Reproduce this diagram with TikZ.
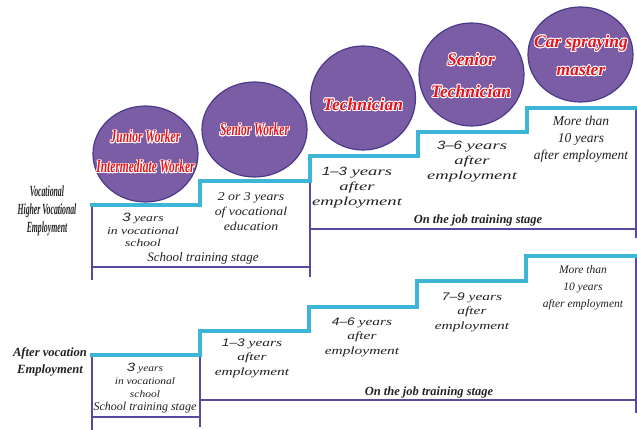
\documentclass[tikz,border=0pt]{standalone}
\usepackage{fontspec}
\setmainfont{Liberation Serif}
\setsansfont{Liberation Sans}
\newfontfamily\wideA[FakeStretch=1.55]{Liberation Serif}
\newfontfamily\wideB[FakeStretch=1.4]{Liberation Serif}
\newfontfamily\wideC[FakeStretch=1.3]{Liberation Serif}
\newfontfamily\wideD[FakeStretch=1.15]{Liberation Serif}
\newfontfamily\wsans[FakeStretch=1.25]{Liberation Sans}
\newfontfamily\condfont[FakeStretch=0.5]{Liberation Serif}
\newfontfamily\condball[FakeStretch=0.62]{Liberation Serif}
\usepackage{contour}
\contourlength{0.8pt}
\usetikzlibrary{shapes.geometric}
\definecolor{stair}{HTML}{3DB5D6}
\definecolor{frame}{HTML}{5A4A9E}
\definecolor{ballfill}{HTML}{7B5DA6}
\definecolor{ballline}{HTML}{4B3A8A}
\definecolor{lbl}{HTML}{E3141C}
\definecolor{txt}{HTML}{222222}
\tikzset{
  stairline/.style={draw=stair, line width=4.5pt, line join=miter, line cap=butt},
  frameline/.style={draw=frame, line width=1.1pt},
  ball/.style={ellipse, draw=ballline, line width=1.2pt, fill=ballfill, inner sep=0pt},
  balltxt/.style={text=lbl, align=center, inner sep=0pt, font=\bfseries\itshape\fontsize{17.5}{30}\selectfont},
  condtxt/.style={text=lbl, align=center, inner sep=0pt, font=\condball\bfseries\itshape\fontsize{18.5}{30}\selectfont},
  yrsA/.style={text=txt, align=center, inner sep=0pt, font=\wideA\itshape\fontsize{12}{15}\selectfont},
  yrsB/.style={text=txt, align=center, inner sep=0pt, font=\wideB\itshape\fontsize{11}{14.5}\selectfont},
  yrsC/.style={text=txt, align=center, inner sep=0pt, font=\wideC\itshape\fontsize{10.5}{12.5}\selectfont},
  yrsD/.style={text=txt, align=center, inner sep=0pt, font=\wideD\itshape\fontsize{12}{15}\selectfont},
  more/.style={text=txt, align=center, inner sep=0pt, font=\itshape\fontsize{13.5}{17}\selectfont},
  stage/.style={text=txt, inner sep=0pt, font=\itshape\fontsize{13}{15}\selectfont},
  job/.style={text=txt, inner sep=0pt, font=\bfseries\itshape\fontsize{12.5}{15}\selectfont},
  leftlab/.style={text=txt, align=center, inner sep=0pt, font=\condfont\bfseries\itshape\fontsize{15.5}{18}\selectfont},
  leftb/.style={text=txt, align=center, inner sep=0pt, font=\bfseries\itshape\fontsize{12.6}{17}\selectfont},
}
\newcommand\hl[1]{\contour{white}{#1}}
\begin{document}
\begin{tikzpicture}[x=1pt,y=-1pt]
\useasboundingbox (0,0) rectangle (637,430);
\fill[white] (0,0) rectangle (637,430);
% ---------- top section frames ----------
\coordinate (fa1) at (92,207);  \coordinate (fa2) at (92,280);
\coordinate (fb1) at (92,267);  \coordinate (fb2) at (310,267);
\coordinate (fc1) at (310,158); \coordinate (fc2) at (310,277);
\coordinate (fd1) at (310,229); \coordinate (fd2) at (636,229);
\coordinate (fe1) at (636,109); \coordinate (fe2) at (636,238);
\draw[frameline] (fa1) -- (fa2);
\draw[frameline] (fb1) -- (fb2);
\draw[frameline] (fc1) -- (fc2);
\draw[frameline] (fd1) -- (fd2);
\draw[frameline] (fe1) -- (fe2);
% ---------- bottom section frames ----------
\coordinate (ga1) at (92,357);  \coordinate (ga2) at (92,430);
\coordinate (gb1) at (92,417);  \coordinate (gb2) at (200,417);
\coordinate (gc1) at (200,333); \coordinate (gc2) at (200,427);
\coordinate (gd1) at (200,400); \coordinate (gd2) at (636,400);
\coordinate (ge1) at (636,258); \coordinate (ge2) at (636,413);
\draw[frameline] (ga1) -- (ga2);
\draw[frameline] (gb1) -- (gb2);
\draw[frameline] (gc1) -- (gc2);
\draw[frameline] (gd1) -- (gd2);
\draw[frameline] (ge1) -- (ge2);
% ---------- stairs ----------
\draw[stairline] (90,205) -- (200,205) -- (200,181) -- (310,181) -- (310,156)
  -- (418,156) -- (418,132) -- (527,132) -- (527,108) -- (640,108);
\draw[stairline] (90,355) -- (200,355) -- (200,331) -- (309,331) -- (309,307)
  -- (417,307) -- (417,281) -- (526,281) -- (526,256) -- (640,256);
% ---------- balls ----------
\node[ball, minimum width=105pt, minimum height=96pt] (c1) at (145.5,154) {};
\node[ball, minimum width=105pt, minimum height=95pt] (c2) at (254.5,129.5) {};
\node[ball, minimum width=105pt, minimum height=104pt] (c3) at (363,98) {};
\node[ball, minimum width=105pt, minimum height=103pt] (c4) at (471.5,74.5) {};
\node[ball, minimum width=105pt, minimum height=95pt] (c5) at (580.5,54.5) {};
\node[condtxt] (c1t) at (145.5,152) {\hl{Junior Worker}\\\hl{Intermediate Worker}};
\node[condtxt] (c2t) at (254.5,130) {\hl{Senior Worker}};
\node[balltxt] (c3t) at (363,105) {\hl{Technician}};
\node[balltxt, font=\bfseries\itshape\fontsize{17.5}{32}\selectfont] (c4t) at (471,76) {\hl{Senior}\\\hl{Technician}};
\node[balltxt, font=\bfseries\itshape\fontsize{17.5}{28}\selectfont] (c5t) at (581,56) {\hl{Car spraying}\\\hl{master}};
% ---------- top texts ----------
\node[leftlab] (l1) at (47,211) {Vocational\\Higher Vocational\\Employment};
\node[yrsC] (s1) at (143,230) {{\wsans\fontsize{12}{12.5}\selectfont 3} years\\in vocational\\school};
\node[yrsD] (s2) at (251,212) {2 or 3 years\\of vocational\\education};
\node[stage] (st1) at (203,258) {School training stage};
\node[yrsA] (t1) at (357,188) {{\wsans 1–3} years\\after\\employment};
\node[yrsA] (t2) at (472,162) {{\wsans 3–6} years\\after\\employment};
\node[more] (t3) at (581,139) {More than\\10 years\\after employment};
\node[job] (j1) at (478,220) {On the job training stage};
% ---------- bottom texts ----------
\node[leftb] (l2) at (50,362) {After vocation\\Employment};
\node[yrsC, font=\wideD\itshape\fontsize{10}{13}\selectfont] (b1) at (145,380) {{\wsans\fontsize{12}{13}\selectfont 3} years\\in vocational\\school};
\node[stage, font=\itshape\fontsize{12}{14}\selectfont] (bst) at (145,408) {School training stage};
\node[yrsB] (b2) at (252,358) {{\wsans 1–3} years\\after\\employment};
\node[yrsB] (b3) at (362,337) {{\wsans 4–6} years\\after\\employment};
\node[yrsB] (b4) at (472,312) {{\wsans 7–9} years\\after\\employment};
\node[more, font=\itshape\fontsize{11.5}{17}\selectfont] (b5) at (583,288) {More than\\10 years\\after employment};
\node[job] (bj) at (429,392) {On the job training stage};
\end{tikzpicture}
\end{document}
